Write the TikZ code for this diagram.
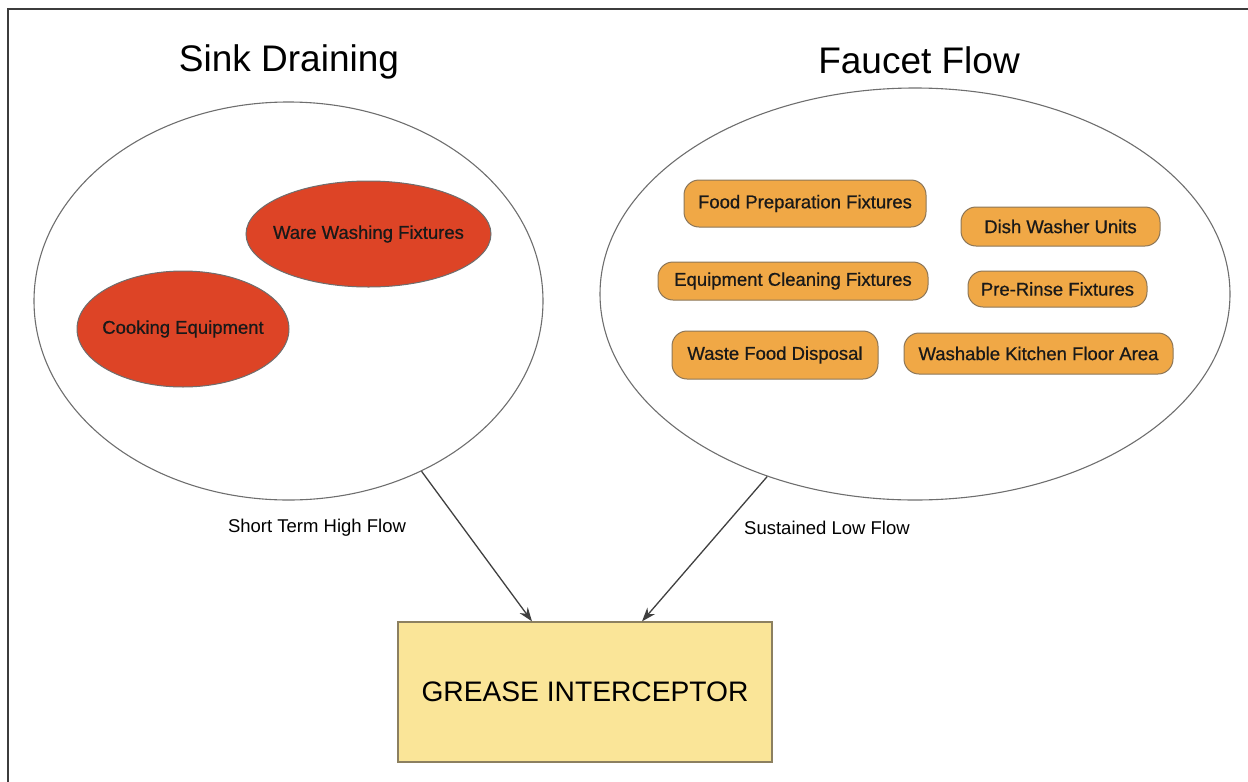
\documentclass[tikz,border=0pt]{standalone}
\usepackage{fontspec}
\setmainfont{Liberation Sans}
\newfontfamily\semibfont[FakeBold=0.7]{Liberation Sans}
\usetikzlibrary{shapes.geometric,arrows.meta}
\definecolor{redfill}{RGB}{221,68,38}
\definecolor{orangefill}{RGB}{240,168,70}
\definecolor{pillborder}{RGB}{140,118,88}
\definecolor{boxfill}{RGB}{250,229,152}
\definecolor{boxborder}{RGB}{140,128,96}
\definecolor{framecol}{RGB}{60,60,60}
\definecolor{ellborder}{RGB}{110,110,110}
\definecolor{arrcol}{RGB}{64,64,64}
\tikzset{
  title/.style={font=\fontsize{37}{40}\selectfont, inner sep=0pt},
  group/.style={ellipse, draw=ellborder, line width=1.1pt, inner sep=0pt},
  redell/.style={ellipse, draw=ellborder, line width=1pt, fill=redfill, inner sep=0pt, font=\semibfont\fontsize{18.5}{20}\selectfont, text=black!90},
  pill/.style={rectangle, rounded corners=15pt, draw=pillborder, line width=1pt, fill=orangefill, inner sep=0pt, font=\semibfont\fontsize{18.5}{20}\selectfont, text=black!90},
  gibox/.style={rectangle, draw=boxborder, line width=1.2pt, fill=boxfill, inner sep=0pt, minimum width=374pt, minimum height=140pt, font=\fontsize{28.2}{32}\selectfont},
  arr/.style={draw=arrcol, line width=1.3pt, -{Stealth[length=14pt,width=10pt]}},
  flowlbl/.style={font=\fontsize{18.5}{20}\selectfont, inner sep=0pt}
}
\begin{document}
\begin{tikzpicture}[x=1pt,y=-1pt]
\useasboundingbox (0,0) rectangle (1248,782);
% frame
\coordinate (ftr) at (1248,9);
\coordinate (ftl) at (8,9);
\coordinate (fbl) at (8,782);
\draw[framecol, line width=1.6pt] (ftr) -- (ftl) -- (fbl);

% titles
\node[title] (t1) at (289,62) {Sink Draining};
\node[title] (t2) at (919,60) {Faucet Flow};

% group ellipses
\node[group, minimum width=509pt, minimum height=398pt] (sink) at (288.5,301) {};
\node[group, minimum width=630pt, minimum height=412pt] (faucet) at (915,294) {};

% sink draining items
\node[redell, minimum width=245pt, minimum height=106pt] (ware) at (368.5,234) {\makebox[0pt][c]{Ware Washing Fixtures}};
\node[redell, minimum width=212pt, minimum height=116pt] (cook) at (183,329) {\makebox[0pt][c]{Cooking Equipment}};

% faucet flow items
\node[pill, minimum width=242pt, minimum height=47pt] (food) at (805,203.5) {Food Preparation Fixtures};
\node[pill, minimum width=270pt, minimum height=38pt] (equip) at (793,281) {Equipment Cleaning Fixtures};
\node[pill, minimum width=206pt, minimum height=48pt] (waste) at (775,355) {Waste Food Disposal};
\node[pill, minimum width=199pt, minimum height=39pt] (dish) at (1060.5,226.5) {Dish Washer Units};
\node[pill, minimum width=179pt, minimum height=36pt] (prer) at (1057.5,289) {Pre-Rinse Fixtures};
\node[pill, minimum width=269pt, minimum height=41pt] (floor) at (1038.5,353.5) {Washable Kitchen Floor Area};

% grease interceptor
\node[gibox] (gi) at (585,692) {GREASE INTERCEPTOR};

% connectors
\draw[arr] (sink.-52.8) -- ([xshift=-53pt]gi.north);
\draw[arr] (faucet.-129.5) -- ([xshift=57pt]gi.north);

% labels
\node[flowlbl] (l1) at (317,528) {Short Term High Flow};
\node[flowlbl] (l2) at (827,528) {Sustained Low Flow};
\end{tikzpicture}
\end{document}
